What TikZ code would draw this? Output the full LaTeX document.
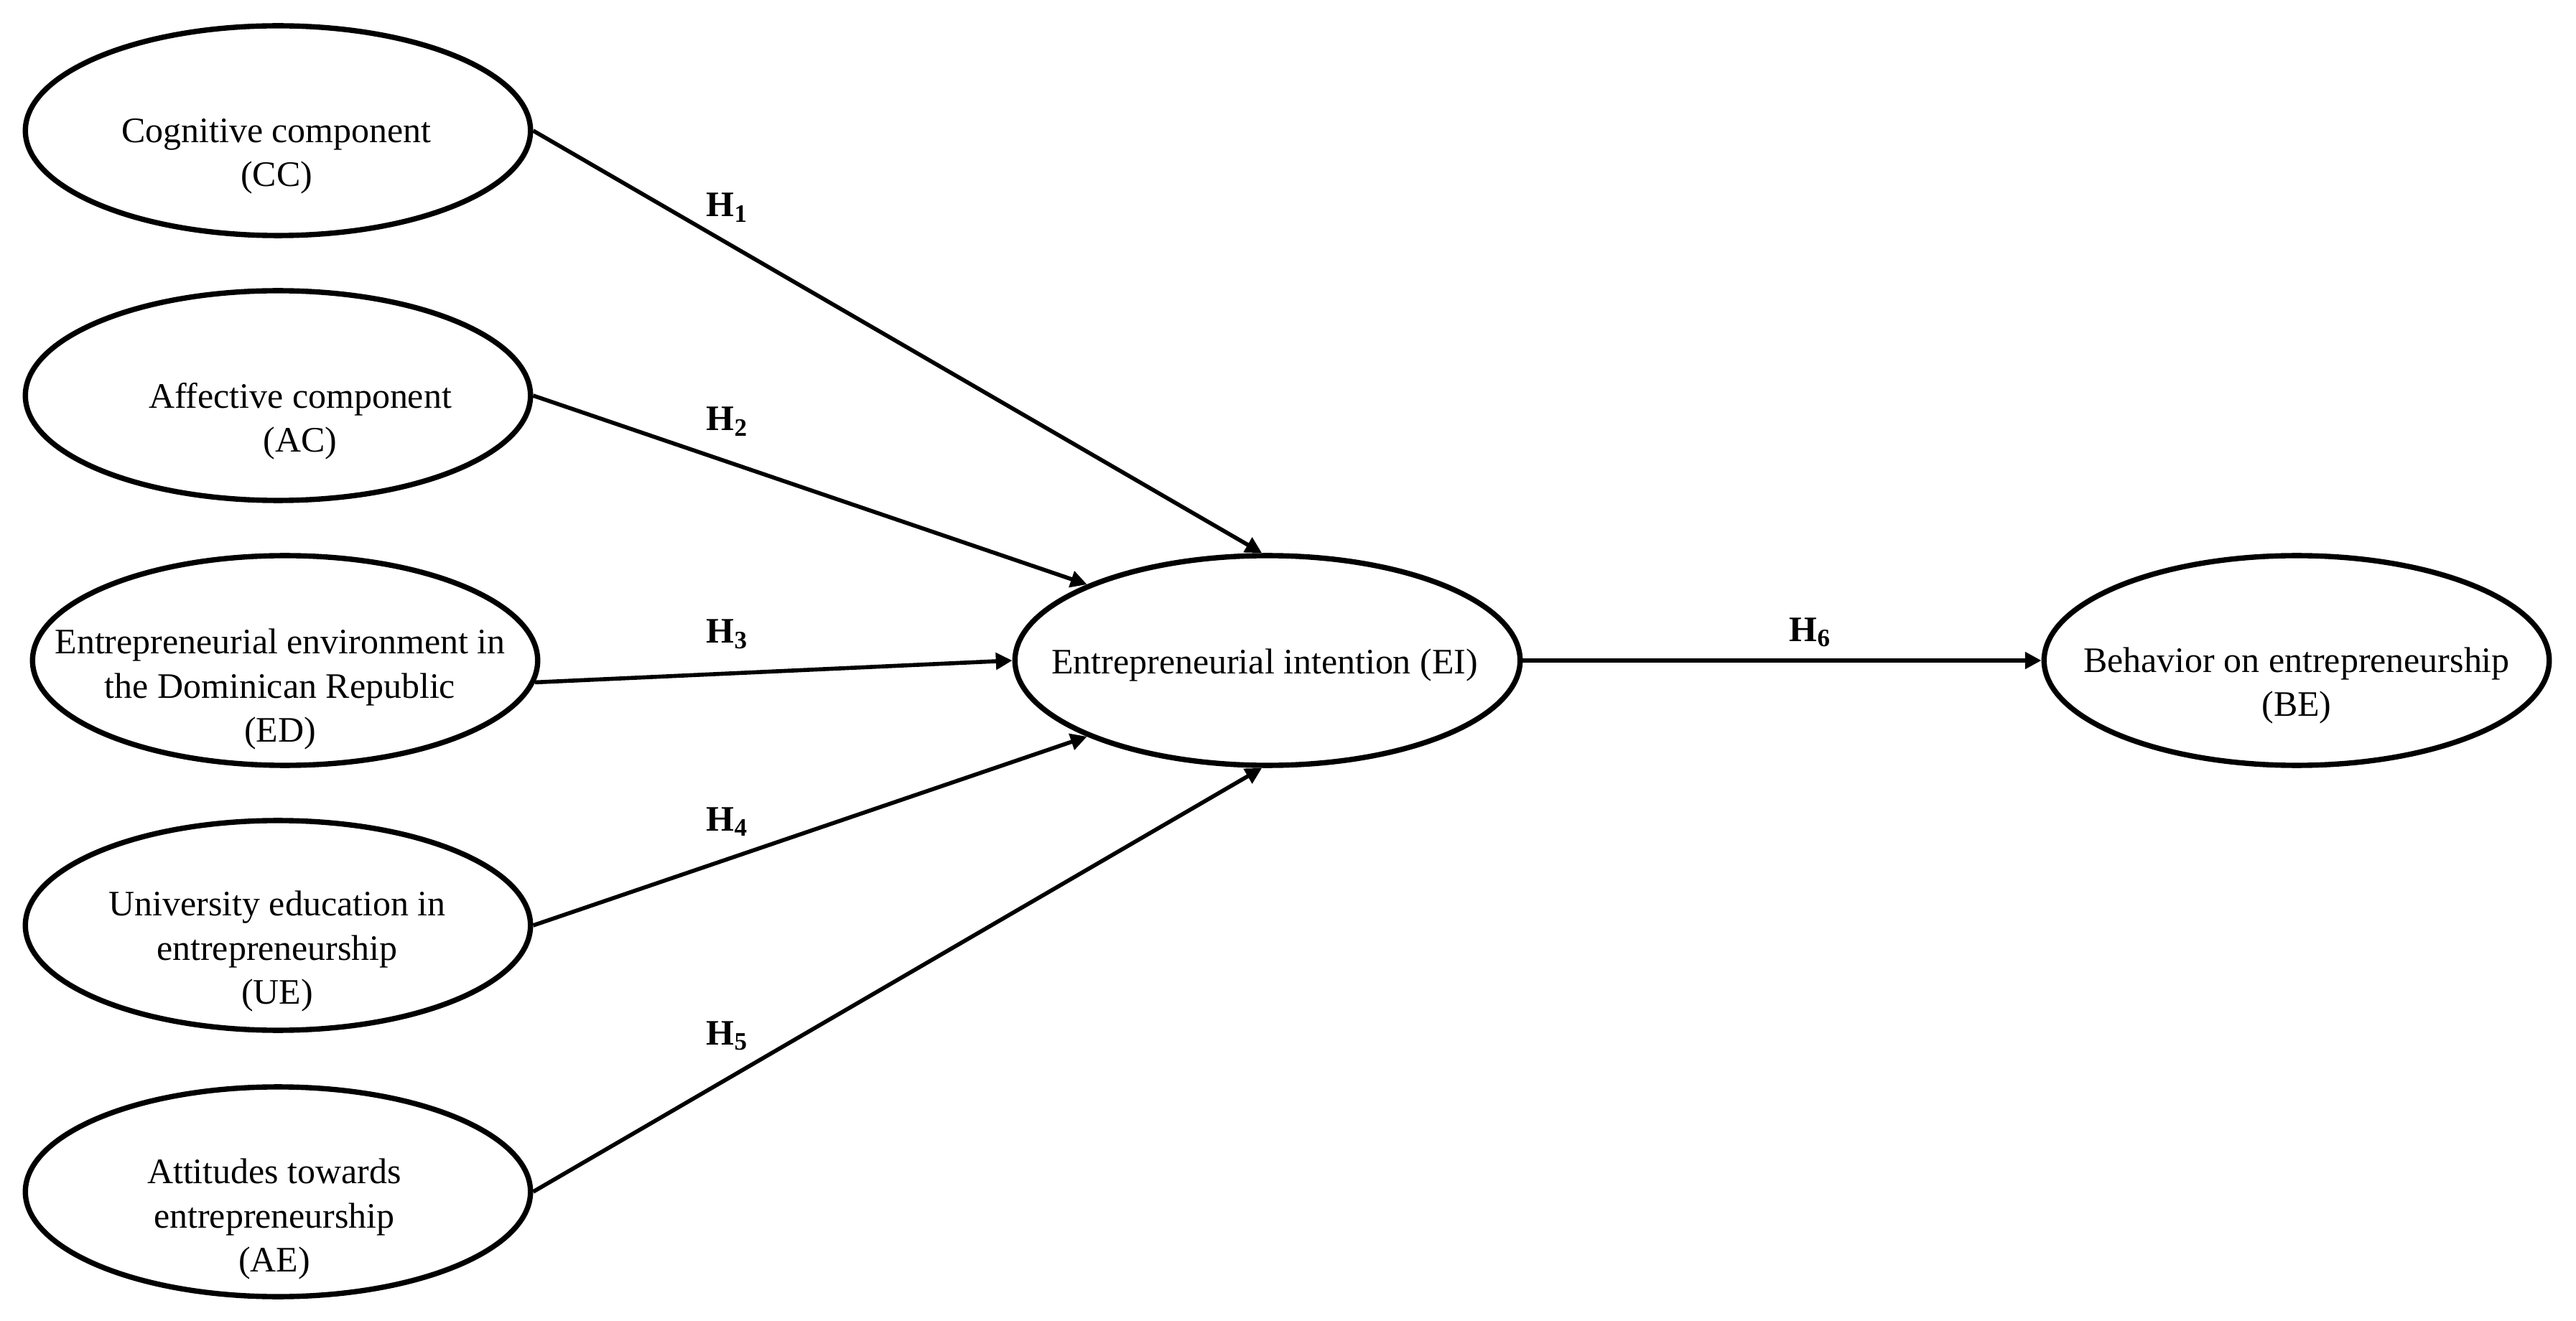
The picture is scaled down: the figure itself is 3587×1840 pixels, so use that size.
\documentclass[tikz,border=0pt]{standalone}
\usepackage{fontspec}
\setmainfont{Liberation Serif}
\usetikzlibrary{arrows.meta,shapes.geometric}
\begin{document}
\begin{tikzpicture}[x=0.01cm,y=-0.01cm,
  ell/.style={draw, ellipse, line width=2.1pt, minimum width=7.03cm, minimum height=2.92cm, inner sep=0pt},
  txt/.style={align=center, inner sep=0pt, font=\fontsize{14.2}{17.4}\selectfont},
  hyp/.style={anchor=base west, inner sep=0pt, font=\bfseries\fontsize{14.2}{17}\selectfont},
  arr/.style={line width=1.6pt, -{Triangle[length=6.5pt,width=6.5pt]}}]
\fill[white] (0,0) rectangle (3587,1840);
\useasboundingbox (0,0) rectangle (3587,1840);

\node[ell] (CC) at (387,182) {};
\node[ell] (AC) at (387,551) {};
\node[ell] (ED) at (397,920) {};
\node[ell] (UE) at (387,1289) {};
\node[ell] (AE) at (387,1660) {};
\node[ell] (EI) at (1765,920) {};
\node[ell] (BE) at (3198,920) {};

\node[txt] (CCt) at (385,218) {Cognitive component\\(CC)};
\node[txt] (ACt) at (418,587) {Affective component\\(AC)};
\node[txt] (EDt) at (390,960) {Entrepreneurial environment in\\the Dominican Republic\\(ED)};
\node[txt] (UEt) at (386,1325) {University education in\\entrepreneurship\\(UE)};
\node[txt] (AEt) at (382,1698) {Attitudes towards\\entrepreneurship\\(AE)};
\node[txt] (EIt) at (1761,926) {Entrepreneurial intention (EI)};
\node[txt] (BEt) at (3198,955) {Behavior on entrepreneurship\\(BE)};

\node[hyp] (h1) at (983,302) {H\textsubscript{1}};
\node[hyp] (h2) at (983,600) {H\textsubscript{2}};
\node[hyp] (h3) at (983,896) {H\textsubscript{3}};
\node[hyp] (h4) at (983,1157) {H\textsubscript{4}};
\node[hyp] (h5) at (983,1455) {H\textsubscript{5}};
\node[hyp] (h6) at (2491,893) {H\textsubscript{6}};

\draw[arr] (CC.east) -- (EI.93);
\draw[arr] (AC.east) -- (EI.north west);
\draw[arr] (ED.-5.5) -- (EI.west);
\draw[arr] (UE.east) -- (EI.south west);
\draw[arr] (AE.east) -- (EI.-93);
\draw[arr] (EI.east) -- (BE.west);
\end{tikzpicture}
\end{document}
